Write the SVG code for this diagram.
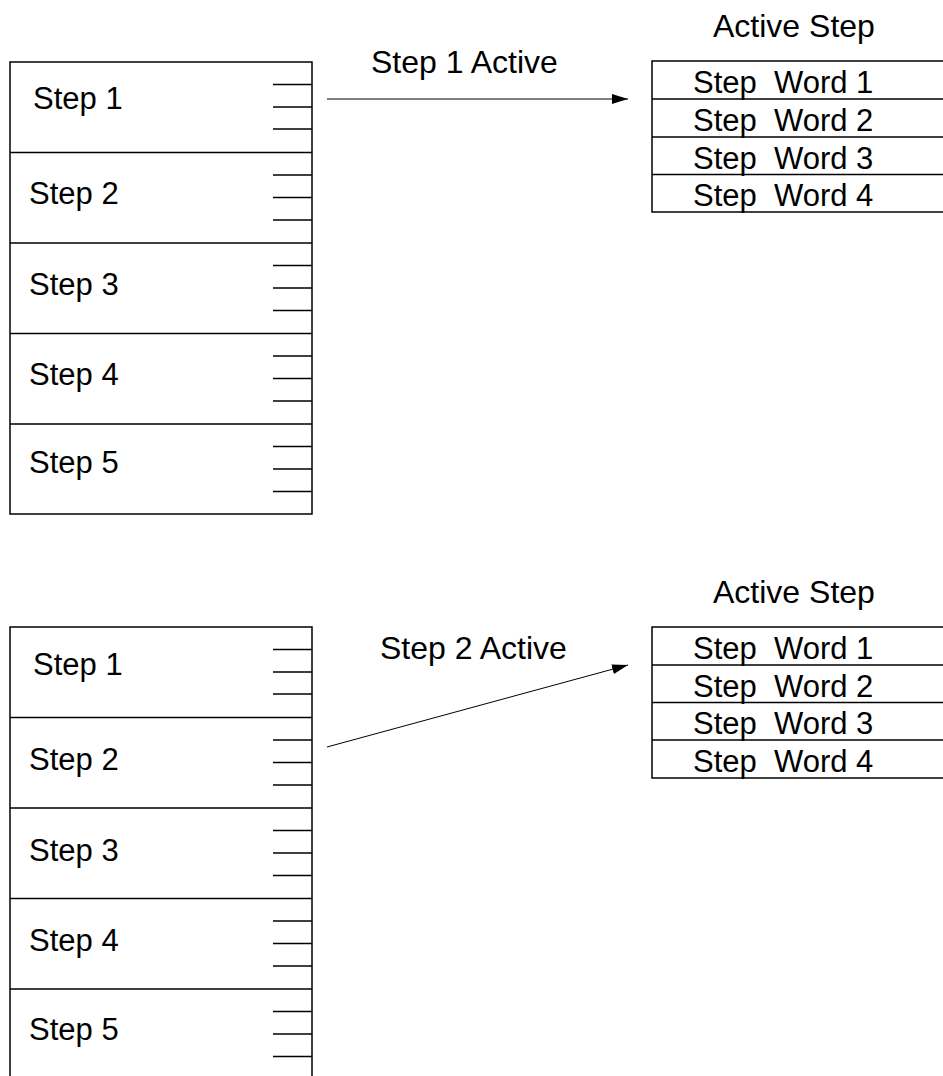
<svg xmlns="http://www.w3.org/2000/svg" width="943" height="1076" viewBox="0 0 943 1076">
<style>
text{font-family:"Liberation Sans",Arial,sans-serif;font-size:31px;fill:#000}
.lbl{font-size:32px}
.box{fill:#fff;stroke:#000;stroke-width:1.5}
.ln{stroke:#000;stroke-width:1.5;fill:none}
.arr{stroke:#000;stroke-width:1;fill:none;marker-end:url(#ah)}
</style>
<defs>
<marker id="ah" viewBox="0 0 16 10" refX="16" refY="5" markerWidth="16" markerHeight="10" markerUnits="userSpaceOnUse" orient="auto">
<path d="M0,0 L16,5 L0,10 Z" fill="#000"/>
</marker>
</defs>
<rect width="943" height="1076" fill="#fff"/>

<g id="stack1">
<rect class="box" x="10" y="62" width="302" height="452"/>
<path class="ln" d="M10 152.5H312M10 243H312M10 333.5H312M10 424H312"/>
<path class="ln" d="M273 84.5H312M273 107H312M273 129H312M273 175H312M273 197.5H312M273 220H312M273 265.5H312M273 288H312M273 310.5H312M273 356H312M273 378.5H312M273 401H312M273 446.5H312M273 469H312M273 491.5H312"/>
<text x="33" y="109">Step 1</text>
<text x="29" y="204">Step 2</text>
<text x="29" y="295">Step 3</text>
<text x="29" y="385">Step 4</text>
<text x="29" y="473">Step 5</text>
</g>

<g id="active1">
<text class="lbl" x="713" y="37">Active Step</text>
<rect class="box" x="652" y="61" width="300" height="151"/>
<path class="ln" d="M652 99H943M652 137H943M652 174.5H943"/>
<text x="693" y="93" xml:space="preserve">Step  Word 1</text>
<text x="693" y="131" xml:space="preserve">Step  Word 2</text>
<text x="693" y="169" xml:space="preserve">Step  Word 3</text>
<text x="693" y="206" xml:space="preserve">Step  Word 4</text>
</g>

<g id="stack2">
<rect class="box" x="10" y="627" width="302" height="460"/>
<path class="ln" d="M10 717.5H312M10 808H312M10 898.5H312M10 989H312"/>
<path class="ln" d="M273 649.5H312M273 672H312M273 694H312M273 740H312M273 762.5H312M273 785H312M273 830.5H312M273 853H312M273 875.5H312M273 921H312M273 943.5H312M273 966H312M273 1011.5H312M273 1034H312M273 1056.5H312"/>
<text x="33" y="675">Step 1</text>
<text x="29" y="770">Step 2</text>
<text x="29" y="861">Step 3</text>
<text x="29" y="951">Step 4</text>
<text x="29" y="1040">Step 5</text>
</g>

<g id="active2">
<text class="lbl" x="713" y="603">Active Step</text>
<rect class="box" x="652" y="627" width="300" height="151"/>
<path class="ln" d="M652 665H943M652 702.5H943M652 740H943"/>
<text x="693" y="659" xml:space="preserve">Step  Word 1</text>
<text x="693" y="697" xml:space="preserve">Step  Word 2</text>
<text x="693" y="734" xml:space="preserve">Step  Word 3</text>
<text x="693" y="772" xml:space="preserve">Step  Word 4</text>
</g>

<g id="connectors">
<line class="arr" x1="327" y1="99" x2="628" y2="99"/>
<text class="lbl" x="371" y="73">Step 1 Active</text>
<line class="arr" x1="327" y1="747" x2="628" y2="665"/>
<text class="lbl" x="380" y="659">Step 2 Active</text>
</g>
</svg>
